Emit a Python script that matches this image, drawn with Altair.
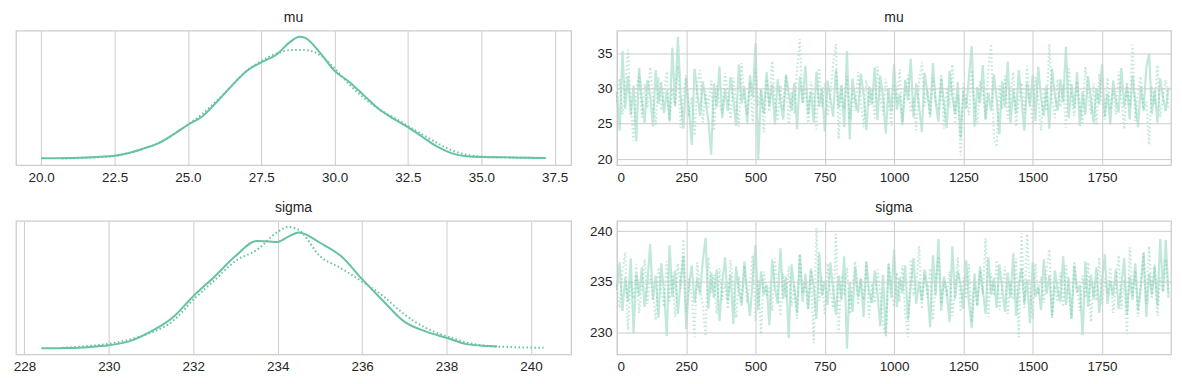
import altair as alt
import pandas as pd

COLOR = "#66c2a5"
TEXT = "#262626"
GRID = "#cccccc"
FONT = "Liberation Sans"

# ---------------- KDE curves (relative density) ----------------
mu_kde_x0 = [20.0, 21.0, 22.0, 22.5, 23.0, 23.5, 24.0, 24.5, 25.0, 25.5, 26.0, 26.5, 27.0, 27.5,
             28.0, 28.5, 28.8, 29.0, 29.5, 30.0, 30.5, 31.0, 31.5, 32.0, 32.5, 33.0, 33.5, 34.0,
             34.5, 35.0, 36.0, 37.2]
mu_kde_y0 = [0.005, 0.008, 0.018, 0.027, 0.05, 0.087, 0.13, 0.20, 0.28, 0.35, 0.47, 0.60, 0.72, 0.79,
             0.85, 0.96, 1.0, 0.99, 0.87, 0.72, 0.63, 0.52, 0.41, 0.33, 0.26, 0.18, 0.10, 0.046,
             0.022, 0.016, 0.013, 0.008]
mu_kde_x1 = [20.7, 21.5, 22.5, 23.0, 23.5, 24.0, 24.5, 25.0, 25.5, 26.0, 26.5, 27.0, 27.5, 28.0,
             28.5, 29.0, 29.5, 30.0, 30.5, 31.0, 31.5, 32.0, 32.5, 33.0, 33.5, 34.0, 34.5, 35.0,
             36.0, 37.0]
mu_kde_y1 = [0.004, 0.01, 0.025, 0.05, 0.085, 0.13, 0.20, 0.28, 0.37, 0.48, 0.60, 0.72, 0.80, 0.86,
             0.89, 0.89, 0.85, 0.74, 0.61, 0.50, 0.41, 0.34, 0.27, 0.20, 0.13, 0.07, 0.035, 0.02,
             0.012, 0.008]

sigma_kde_x0 = [228.4, 229.0, 229.5, 230.0, 230.5, 231.0, 231.5, 232.0, 232.5, 233.0, 233.5, 233.8,
                234.0, 234.25, 234.5, 235.0, 235.5, 236.0, 236.5, 237.0, 237.5, 238.0, 238.5,
                239.0, 239.2]
sigma_kde_y0 = [0.0, 0.003, 0.01, 0.025, 0.06, 0.14, 0.25, 0.43, 0.59, 0.76, 0.885, 0.88,
                0.877, 0.92, 0.954, 0.87, 0.76, 0.57, 0.39, 0.22, 0.14, 0.087, 0.033,
                0.02, 0.016]
sigma_kde_x1 = [228.9, 229.5, 230.0, 230.5, 231.0, 231.5, 232.0, 232.5, 233.0, 233.5, 234.0, 234.25,
                234.5, 235.0, 235.5, 236.0, 236.5, 237.0, 237.5, 238.0, 238.5, 239.0, 239.5, 240.3]
sigma_kde_y1 = [0.005, 0.02, 0.038, 0.074, 0.13, 0.22, 0.40, 0.56, 0.72, 0.81, 0.96, 1.0,
                0.975, 0.76, 0.66, 0.55, 0.43, 0.28, 0.17, 0.10, 0.046, 0.019, 0.011, 0.005]

# ---------------- traces (every 10th draw) ----------------
draws = list(range(0, 2000, 10))

mu_chain0 = [
    29.5, 24.0, 35.3, 27.1, 31.8, 26.2, 30.4, 22.5, 32.9, 28.3, 25.1, 31.2, 29.0, 24.6, 32.6, 27.8, 30.9, 26.5, 29.7, 25.3,
    35.8, 27.6, 37.3, 28.9, 24.3, 31.5, 27.0, 22.0, 32.8, 29.4, 26.1, 31.0, 28.2, 25.4, 20.6, 30.7, 27.3, 33.1, 25.8, 29.9,
    26.8, 31.6, 28.5, 24.7, 33.4, 27.9, 30.2, 25.0, 31.9, 28.7, 36.4, 20.0, 29.8, 26.4, 32.3, 27.5, 30.6, 24.9, 31.3, 28.1,
    25.6, 32.0, 29.3, 26.9, 30.8, 24.2, 31.7, 28.0, 33.2, 26.3, 29.6, 25.2, 32.4, 27.4, 30.1, 23.9, 31.1, 28.6, 26.0, 32.7,
    27.2, 30.5, 24.5, 35.3, 22.8, 31.4, 28.4, 26.6, 32.1, 29.1, 24.1, 30.3, 27.7, 33.0, 25.5, 31.8, 28.8, 23.6, 30.0, 26.7,
    33.5, 27.0, 29.2, 24.8, 31.2, 28.3, 34.2, 25.9, 30.7, 27.6, 23.8, 32.2, 29.5, 26.2, 33.6, 28.0, 25.3, 31.5, 27.8, 24.4,
    32.5, 28.9, 26.4, 30.9, 23.0, 29.7, 27.1, 31.6, 36.0, 24.6, 30.2, 27.9, 33.3, 25.7, 29.4, 26.8, 32.0, 28.6, 23.5, 31.0,
    27.3, 33.8, 25.1, 29.9, 26.5, 32.6, 28.2, 24.0, 30.8, 27.5, 31.9, 25.4, 33.1, 28.7, 26.1, 30.4, 24.3, 32.8, 29.0, 26.9,
    31.3, 28.0, 35.9, 25.8, 30.6, 27.2, 32.3, 24.7, 29.6, 26.3, 31.7, 28.5, 25.0, 30.0, 27.7, 33.4, 26.0, 29.3, 24.9, 31.1,
    28.4, 26.6, 32.9, 27.4, 30.5, 25.6, 31.8, 28.1, 24.5, 30.3, 27.0, 33.0, 34.9, 26.4, 29.8, 25.2, 31.4, 28.8, 26.8, 30.1,
]
mu_chain1 = [
    28.1, 31.4, 26.3, 30.2, 35.5, 27.7, 22.6, 29.8, 32.1, 25.9, 30.6, 27.2, 33.0, 28.5, 24.8, 31.6, 26.9, 29.4, 32.4, 25.5,
    30.0, 27.5, 33.2, 24.4, 29.1, 31.9, 26.0, 28.8, 23.3, 30.7, 32.6, 25.2, 29.6, 27.3, 31.1, 24.0, 30.4, 28.0, 26.5, 32.2,
    29.2, 25.7, 31.5, 27.9, 24.6, 33.6, 28.4, 26.2, 30.9, 25.0, 32.8, 27.6, 29.9, 23.8, 31.3, 26.7, 33.9, 28.2, 25.4, 30.5,
    27.0, 31.8, 24.9, 29.5, 26.4, 32.5, 37.0, 27.8, 30.1, 25.1, 31.0, 28.7, 24.2, 32.9, 27.4, 30.8, 26.1, 29.0, 33.5, 36.3,
    22.8, 30.3, 27.1, 31.7, 25.6, 29.7, 26.8, 32.3, 28.3, 24.5, 31.2, 27.6, 30.0, 25.8, 33.1, 28.9, 26.3, 31.4, 27.9, 24.7,
    30.6, 28.1, 32.7, 25.3, 29.3, 31.9, 26.6, 28.6, 24.1, 30.9, 33.7, 27.5, 29.8, 25.9, 31.5, 28.0, 26.9, 32.0, 24.3, 30.2,
    27.3, 33.4, 25.0, 29.1, 20.5, 30.7, 28.4, 26.2, 32.6, 27.8, 24.9, 31.1, 29.6, 25.5, 33.0, 36.3, 22.9, 21.7, 30.4, 27.1,
    31.8, 25.7, 29.4, 32.3, 24.6, 28.2, 30.8, 26.5, 33.2, 27.9, 25.3, 31.6, 28.7, 24.0, 30.1, 26.8, 36.3, 28.5, 25.8, 31.3,
    27.4, 30.5, 24.4, 32.8, 28.9, 26.1, 31.0, 27.7, 25.1, 33.1, 29.2, 26.4, 30.7, 24.8, 32.1, 28.3, 25.6, 31.5, 27.0, 29.7,
    26.3, 32.4, 28.6, 24.2, 30.9, 27.5, 36.2, 25.4, 29.5, 31.7, 26.7, 28.1, 22.0, 30.3, 27.8, 33.3, 25.9, 29.0, 31.2, 27.2,
]
sigma_chain0 = [
    234.2, 236.9, 232.1, 235.4, 233.0, 237.3, 229.9, 235.8, 233.6, 236.4, 232.5, 234.9, 238.7, 233.2, 235.6, 231.4, 236.8, 234.0, 229.6, 238.6,
    233.5, 236.1, 231.8, 235.0, 237.6, 230.3, 234.6, 236.6, 232.9, 235.3, 233.8, 237.1, 239.3, 232.3, 235.9, 233.4, 236.2, 231.1, 234.8, 237.4,
    233.1, 235.7, 230.8, 236.5, 234.1, 232.6, 237.0, 233.9, 231.6, 235.2, 238.6, 232.2, 236.0, 233.7, 234.7, 230.7, 237.2, 234.4, 232.8, 238.3,
    233.3, 235.5, 229.4, 236.7, 234.3, 231.9, 237.7, 233.0, 235.8, 232.4, 236.3, 234.5, 231.3, 237.9, 233.6, 235.1, 232.7, 236.9, 234.2, 231.7,
    235.6, 233.2, 237.5, 228.4, 234.9, 232.0, 236.4, 233.5, 235.3, 231.5, 237.0, 234.0, 232.9, 236.1, 233.8, 230.6, 235.7, 229.7, 236.8, 233.4,
    238.2, 232.5, 235.4, 233.9, 236.6, 231.2, 234.6, 237.3, 232.8, 235.0, 233.1, 236.2, 234.4, 230.5, 237.6, 233.6, 239.2, 232.1, 235.5, 234.0,
    231.0, 238.5, 233.3, 236.0, 234.7, 232.3, 237.1, 233.0, 230.4, 235.8, 232.6, 236.5, 234.1, 231.8, 237.4, 233.7, 235.3, 232.4, 236.7, 234.3,
    232.0, 235.9, 233.4, 237.8, 231.6, 234.8, 236.3, 232.9, 235.2, 230.9, 236.9, 233.5, 234.5, 232.2, 237.2, 233.8, 235.6, 231.4, 236.1, 234.2,
    233.0, 237.5, 232.7, 235.4, 231.3, 236.6, 233.9, 234.7, 229.7, 237.0, 232.5, 235.7, 233.3, 236.4, 231.9, 234.9, 237.7, 232.8, 235.1, 233.6,
    236.2, 232.3, 234.6, 237.3, 231.7, 235.5, 233.2, 236.8, 232.1, 234.4, 237.9, 231.5, 235.8, 233.7, 236.5, 232.6, 239.2, 234.0, 239.1, 233.4,
]
sigma_chain1 = [
    234.7, 232.4, 236.2, 237.9, 230.2, 235.1, 233.3, 236.7, 231.9, 234.5, 237.2, 232.8, 235.6, 233.7, 231.2, 236.4, 234.0, 232.5, 237.0, 233.1,
    235.9, 231.5, 236.8, 234.3, 239.2, 232.0, 235.3, 233.6, 229.5, 236.9, 234.1, 232.7, 229.6, 237.4, 233.9, 235.7, 231.8, 236.3, 233.2, 234.8,
    232.3, 237.1, 234.6, 231.4, 235.5, 233.0, 236.6, 232.9, 234.9, 237.6, 231.1, 235.2, 229.8, 236.0, 233.5, 234.4, 232.1, 237.3, 234.2, 231.6,
    235.8, 233.4, 236.5, 232.6, 234.7, 231.3, 237.7, 233.8, 235.0, 232.2, 236.1, 228.9, 240.3, 233.1, 235.4, 231.7, 236.8, 234.0, 232.4, 239.7,
    229.9, 235.6, 233.6, 236.4, 231.8, 234.6, 237.0, 232.7, 235.3, 233.2, 236.9, 231.4, 234.8, 232.9, 236.2, 233.7, 230.8, 229.6, 236.7, 234.3,
    232.5, 235.9, 233.0, 236.6, 231.9, 229.5, 237.2, 233.9, 234.5, 238.5, 232.3, 235.7, 233.4, 236.3, 231.2, 234.9, 237.5, 232.8, 235.1, 233.5,
    236.0, 231.6, 234.2, 237.4, 232.0, 235.4, 233.3, 236.7, 231.0, 234.7, 232.6, 236.1, 233.8, 239.3, 231.5, 235.8, 233.6, 237.1, 232.2, 234.4,
    236.5, 231.8, 235.0, 233.2, 237.3, 229.5, 239.8, 232.4, 239.7, 234.1, 231.3, 236.8, 233.7, 235.5, 232.9, 236.2, 238.2, 231.7, 234.6, 233.0,
    235.9, 232.5, 236.6, 233.9, 231.4, 237.0, 234.3, 232.1, 235.6, 233.4, 236.9, 231.0, 234.8, 233.1, 237.4, 232.7, 235.3, 233.8, 236.4, 231.9,
    234.5, 237.6, 232.3, 235.2, 229.8, 238.4, 233.6, 236.1, 231.5, 234.9, 237.8, 232.8, 238.5, 233.3, 236.7, 231.6, 235.4, 234.0, 237.2, 233.9,
]

mu_kde_ticks = [20.0, 22.5, 25.0, 27.5, 30.0, 32.5, 35.0, 37.5]
sigma_kde_ticks = [228, 230, 232, 234, 236, 238, 240]
draw_ticks = [0, 250, 500, 750, 1000, 1250, 1500, 1750]
mu_trace_ticks = [20, 25, 30, 35]
sigma_trace_ticks = [230, 235, 240]

W_L, W_R = 557, 556
H_T, H_B = 135, 134
DASH = [1.5, 2.5]


def title(text):
    return alt.TitleParams(text, anchor="middle", fontSize=14, font=FONT, fontWeight="normal",
                           color=TEXT, offset=6)


def kde_panel(name, x0, y0, x1, y1, xdom, ticks, fmt, w, h):
    d0 = pd.DataFrame({"x": x0, "y": y0})
    d1 = pd.DataFrame({"x": x1, "y": y1})
    ymax = max(max(y0), max(y1))
    xs = alt.X("x:Q", scale=alt.Scale(domain=xdom, nice=False, zero=False),
               axis=alt.Axis(values=ticks, format=fmt, title=None, grid=True))
    ys = alt.Y("y:Q", scale=alt.Scale(domain=[-0.05 * ymax, 1.05 * ymax], nice=False, zero=False),
               axis=None)
    l0 = alt.Chart(d0).mark_line(color=COLOR, strokeWidth=2, interpolate="monotone").encode(x=xs, y=ys)
    l1 = alt.Chart(d1).mark_line(color=COLOR, strokeWidth=2, strokeDash=DASH,
                                 interpolate="monotone").encode(x=xs, y=ys)
    return alt.layer(l0, l1).properties(width=w, height=h, title=title(name))


def trace_panel(name, c0, c1, ydom, yticks, w, h):
    d0 = pd.DataFrame({"draw": draws, "v": c0})
    d1 = pd.DataFrame({"draw": draws, "v": c1})
    xs = alt.X("draw:Q", scale=alt.Scale(domain=[0, 1999], nice=False, zero=False),
               axis=alt.Axis(values=draw_ticks, format="d", title=None, grid=True, zindex=1))
    ys = alt.Y("v:Q", scale=alt.Scale(domain=ydom, nice=False, zero=False),
               axis=alt.Axis(values=yticks, format="d", title=None, grid=True, zindex=1))
    l0 = alt.Chart(d0).mark_line(color=COLOR, strokeWidth=2.2, strokeOpacity=0.4).encode(x=xs, y=ys)
    l1 = alt.Chart(d1).mark_line(color=COLOR, strokeWidth=2.2, strokeOpacity=0.4,
                                 strokeDash=DASH).encode(x=xs, y=ys)
    return alt.layer(l0, l1).properties(width=w, height=h, title=title(name))


k_mu = kde_panel("mu", mu_kde_x0, mu_kde_y0, mu_kde_x1, mu_kde_y1, [19.14, 38.06],
                 mu_kde_ticks, ".1f", W_L, H_T)
t_mu = trace_panel("mu", mu_chain0, mu_chain1, [19.14, 38.2], mu_trace_ticks, W_R, H_T)
k_sg = kde_panel("sigma", sigma_kde_x0, sigma_kde_y0, sigma_kde_x1, sigma_kde_y1, [227.8, 240.95],
                 sigma_kde_ticks, "d", W_L, H_B)
t_sg = trace_panel("sigma", sigma_chain0, sigma_chain1, [227.8, 241.0], sigma_trace_ticks, W_R, H_B)

chart = alt.concat(
    k_mu, t_mu, k_sg, t_sg, columns=2, bounds="flush",
    spacing={"row": 56, "column": 46}
).properties(
    padding={"left": 4, "top": 1, "right": 0, "bottom": 0}, background="white"
).configure_view(
    stroke=GRID, strokeWidth=1.25
).configure_axis(
    labelFont=FONT, labelFontSize=13.5, labelColor=TEXT, domain=False, ticks=False,
    labelPadding=5, gridColor=GRID, gridWidth=1, gridOpacity=1
)

chart.save("out.html", embed_options={"renderer": "svg", "actions": False})
